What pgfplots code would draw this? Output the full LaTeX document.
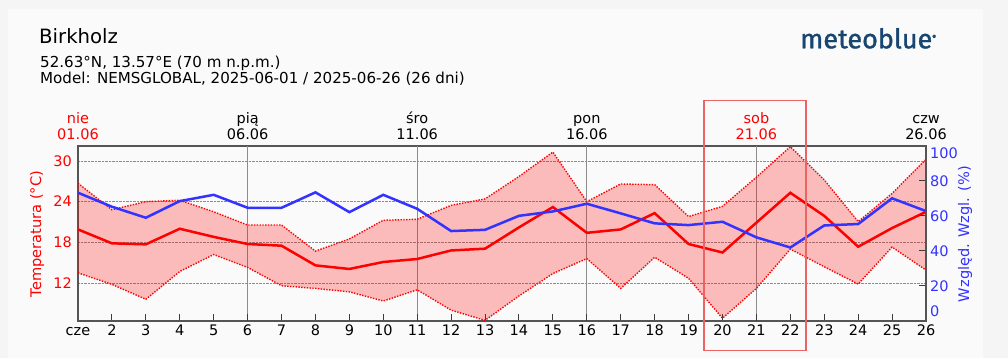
\documentclass[border=0pt]{standalone}
\usepackage{fontspec}
\setmainfont{DejaVu Sans}
\newfontfamily\logofont[FakeBold=1.2]{Fira Sans}
\usepackage{pgfplots}
\usepackage{pgfplotstable}
\pgfplotsset{compat=1.18}
\definecolor{outerbg}{RGB}{245,245,245}
\definecolor{innerbg}{RGB}{250,250,250}
\definecolor{tred}{RGB}{255,0,0}
\definecolor{hblue}{RGB}{51,51,255}
\definecolor{mbblue}{RGB}{24,70,112}
\definecolor{boxred}{RGB}{234,100,100}
\definecolor{axgray}{RGB}{85,85,85}
\definecolor{tickgray}{RGB}{60,60,60}
\definecolor{gridgray}{RGB}{140,140,140}

\pgfplotstableread{
day tmean tmax tmin hum
1  19.9 26.7 13.5 73.3
2  17.85 22.8 11.8 65.3
3  17.7 24.0 9.6  59.0
4  20.0 24.2 13.7 68.5
5  18.8 22.5 16.2 72.1
6  17.75 20.55 14.3 64.7
7  17.5 20.55 11.6 64.7
8  14.6 16.7 11.2 73.5
9  14.07 18.5 10.7 62.2
10 15.1 21.25 9.35 72.1
11 15.54 21.4 11.0 64.1
12 16.8 23.45 8.0 51.4
13 17.06 24.4 6.5 52.1
14 20.2 27.7 10.1 60.1
15 23.2 31.3 13.4 62.6
16 19.4 24.0 15.6 67.0
17 19.9 26.6 11.2 61.5
18 22.3 26.5 15.8 55.8
19 17.75 21.8 12.7 54.8
20 16.5 23.3 6.8 56.7
21 20.9 27.6 11.2 47.8
22 25.3 32.1 17.0 42.0
23 21.9 27.2 14.4 54.6
24 17.35 21.05 11.85 55.4
25 20.1 25.2 17.3 70.1
26 22.5 30.25 13.9 62.8
}\data

% band outline: max forward, min backward
\pgfplotstableread{
day t
1  26.7
2  22.8
3  24.0
4  24.2
5  22.5
6  20.55
7  20.55
8  16.7
9  18.5
10 21.25
11 21.4
12 23.45
13 24.4
14 27.7
15 31.3
16 24.0
17 26.6
18 26.5
19 21.8
20 23.3
21 27.6
22 32.1
23 27.2
24 21.05
25 25.2
26 30.25
26 13.9
25 17.3
24 11.85
23 14.4
22 17.0
21 11.2
20 6.8
19 12.7
18 15.8
17 11.2
16 15.6
15 13.4
14 10.1
13 6.5
12 8.0
11 11.0
10 9.35
9  10.7
8  11.2
7  11.6
6  14.3
5  16.2
4  13.7
3  9.6
2  11.8
1  13.5
}\band

\begin{document}
\begin{tikzpicture}[x=1pt,y=1pt]
\fill[outerbg] (0,0) rectangle (1008,358);
\fill[innerbg] (8,0) rectangle (983,349);

\begin{axis}[
  at={(78pt,37pt)}, anchor=south west, scale only axis,
  width=848pt, height=175pt,
  xmin=1, xmax=26, ymin=6.4, ymax=32.2,
  axis line style={axgray, line width=1.1pt},
  xtick={1,...,26},
  xticklabels={cze,2,3,4,5,6,7,8,9,10,11,12,13,14,15,16,17,18,19,20,21,22,23,24,25,26},
  xtick pos=bottom, xtick align=inside,
  major tick length=7pt,
  xtick style={draw=tickgray, line width=1pt},
  ytick={12,18,24,30}, ytick pos=left,
  ytick style={draw=none},
  ymajorgrids, major grid style={densely dotted, gridgray, line width=0.7pt},
  extra x ticks={6,11,16,21}, extra x tick labels={},
  extra x tick style={xmajorgrids=true, major grid style={solid, gridgray, line width=0.9pt}},
  tick label style={font=\fontsize{14.5}{17}\selectfont},
  /pgf/number format/assume math mode=true,
  xticklabel style={anchor=north, inner sep=0pt, yshift=-4pt, text height=10.6pt, text depth=0pt},
  yticklabel style={anchor=east, inner sep=0pt, xshift=-6pt, tred},
  clip=false,
]
\addplot[fill=tred, fill opacity=0.25, draw=none] table[x=day,y=t]{\band};
\addplot[tred, line width=1.4pt, dash pattern=on 1.4pt off 1.4pt] table[x=day,y=tmax]{\data};
\addplot[tred, line width=1.4pt, dash pattern=on 1.4pt off 1.4pt] table[x=day,y=tmin]{\data};
\addplot[tred, line width=2.5pt, line join=miter] table[x=day,y=tmean]{\data};
\end{axis}

\begin{axis}[
  at={(78pt,37pt)}, anchor=south west, scale only axis,
  width=848pt, height=175pt,
  xmin=1, xmax=26, ymin=0, ymax=100,
  axis x line=none, axis y line*=right,
  axis line style={axgray, line width=1.1pt},
  ytick={20,40,60,80}, ytick align=inside, major tick length=7pt,
  ytick style={draw=tickgray, line width=1pt},
  tick label style={font=\fontsize{14.5}{17}\selectfont},
  /pgf/number format/assume math mode=true,
  yticklabel style={anchor=west, inner sep=0pt, xshift=4pt, hblue},
  clip=false,
]
\addplot[hblue, line width=2.5pt, line join=miter] table[x=day,y=hum]{\data};
\end{axis}

% axis titles
\node[rotate=90, text=tred, font=\fontsize{14.6}{17}\selectfont] at (37,124) {Temperatura (°C)};
\node[rotate=90, text=hblue, font=\fontsize{14.6}{17}\selectfont] at (965,124) {Względ. Wzgl. (\%)};
% right-axis end labels
\node[anchor=west, inner sep=0pt, text=hblue, font=\fontsize{14.5}{17}\selectfont] at (930,205) {100};
\node[anchor=west, inner sep=0pt, text=hblue, font=\fontsize{14.5}{17}\selectfont] at (930,46.3) {0};

% header
\node[anchor=base west, inner sep=0pt, font=\fontsize{19.7}{22}\selectfont] at (39,314.7) {Birkholz};
\node[anchor=base west, inner sep=0pt, font=\fontsize{15.1}{18}\selectfont] at (40,290.7) {52.63°N, 13.57°E (70 m n.p.m.)};
\node[anchor=base west, inner sep=0pt, font=\fontsize{15.1}{18}\selectfont] at (40,274) {Model: NEMSGLOBAL, 2025-06-01 / 2025-06-26 (26 dni)};
\node[anchor=base west, inner sep=0pt, text=mbblue, font=\logofont\fontsize{27}{30}\selectfont] at (800,309.7) {meteoblue\raisebox{9pt}{\fontsize{6}{6}\selectfont®}};

% top day labels
\foreach \xx/\dn/\dd/\cc in {78/nie/01.06/tred, 247.6/pią/06.06/black, 417.2/śro/11.06/black, 586.8/pon/16.06/black, 756.4/sob/21.06/tred, 926/czw/26.06/black}{
  \node[anchor=base, inner sep=0pt, text=\cc, font=\fontsize{14.5}{17}\selectfont] at (\xx,234.7) {\dn};
  \node[anchor=base, inner sep=0pt, text=\cc, font=\fontsize{14.5}{17}\selectfont] at (\xx,218.7) {\dd};
}
% highlight box
\draw[boxred, line width=1.3pt] (704,7.5) rectangle (806,257.5);
\pgfresetboundingbox
\useasboundingbox (0,0) rectangle (1008,358);
\end{tikzpicture}
\end{document}
